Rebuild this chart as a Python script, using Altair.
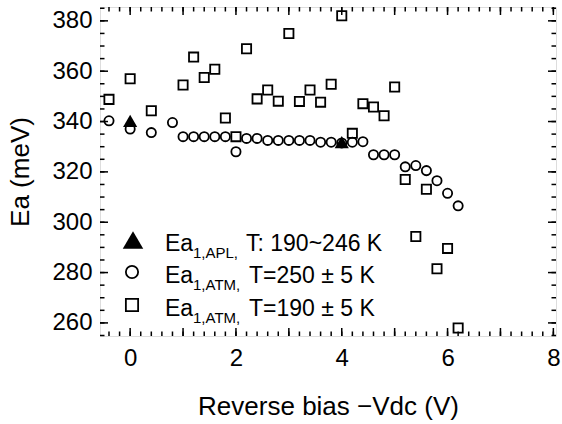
import altair as alt
import pandas as pd

# ---- data ----
sq_x = [-0.4, 0.0, 0.4, 1.0, 1.2, 1.4, 1.6, 1.8, 2.0, 2.2, 2.4, 2.6, 2.8, 3.0, 3.2,
        3.4, 3.6, 3.8, 4.0, 4.2, 4.4, 4.6, 4.8, 5.0, 5.2, 5.4, 5.6, 5.8, 6.0, 6.2]
sq_y = [348.8, 357.0, 344.3, 354.5, 365.6, 357.5, 360.8, 341.4, 334.0, 368.9, 349.0,
        352.5, 348.1, 375.0, 348.0, 352.5, 347.7, 354.8, 382.0, 335.3, 347.1, 345.8,
        342.3, 353.7, 317.0, 294.3, 313.1, 281.5, 289.6, 258.0]

ci_x = [-0.4, 0.0, 0.4, 0.8, 1.0, 1.2, 1.4, 1.6, 1.8, 2.0, 2.2, 2.4, 2.6, 2.8, 3.0, 3.2,
        3.4, 3.6, 3.8, 4.0, 4.2, 4.4, 4.6, 4.8, 5.0, 5.2, 5.4, 5.6, 5.8, 6.0, 6.2]
ci_y = [340.3, 337.0, 335.6, 339.6, 334.0, 334.0, 334.0, 334.0, 334.0, 328.0, 333.3,
        333.3, 332.5, 332.5, 332.5, 332.5, 332.5, 331.8, 331.8, 331.5, 331.8, 332.0,
        326.8, 326.8, 326.8, 322.0, 322.5, 320.5, 316.5, 311.5, 306.5]

tr_x = [0.0, 4.0]
tr_y = [340.3, 331.8]

x_labels = [0, 2, 4, 6, 8]
y_labels = [260, 280, 300, 320, 340, 360, 380]
x_dom = [-0.57, 8.05]
y_dom = [254.8, 385.5]

# ---- layout ----
W, H = 456, 329
FONT = "Liberation Sans"

xs = alt.Scale(domain=x_dom, nice=False, zero=False)
ys = alt.Scale(domain=y_dom, nice=False, zero=False)

squares = pd.DataFrame({"x": sq_x, "y": sq_y})
circles = pd.DataFrame({"x": ci_x, "y": ci_y})
triangles = pd.DataFrame({"x": tr_x, "y": tr_y})

xaxis = alt.Axis(values=x_labels, title="Reverse bias \u2212Vdc (V)", ticks=False, tickSize=0,
                 domain=False, grid=False, labelFontSize=24, labelFont=FONT, labelColor="black",
                 labelPadding=10, titleFontSize=26, titleFont=FONT, titleFontWeight="normal",
                 titleColor="black", titlePadding=23)
yaxis = alt.Axis(values=y_labels, title="Ea (meV)", ticks=False, tickSize=0,
                 domain=False, grid=False, labelFontSize=24, labelFont=FONT, labelColor="black",
                 labelPadding=8, titleFontSize=26, titleFont=FONT, titleFontWeight="normal",
                 titleColor="black", titlePadding=18)

sq_layer = alt.Chart(squares).mark_point(shape="square", filled=False, color="black",
                                          size=85, strokeWidth=1.8, opacity=1).encode(
    x=alt.X("x:Q", scale=xs, axis=xaxis), y=alt.Y("y:Q", scale=ys, axis=yaxis))
ci_layer = alt.Chart(circles).mark_point(shape="circle", filled=False, color="black",
                                          size=85, strokeWidth=1.8, opacity=1).encode(
    x=alt.X("x:Q", scale=xs), y=alt.Y("y:Q", scale=ys))
tr_layer = alt.Chart(triangles).mark_point(shape="triangle-up", filled=True, color="black",
                                            size=200, opacity=1).encode(
    x=alt.X("x:Q", scale=xs), y=alt.Y("y:Q", scale=ys))

# ---- inward ticks on all four sides ----
x_major = pd.DataFrame({"v": [i for i in range(0, 9)]})
x_minor = pd.DataFrame({"v": [round(-0.4 + 0.2 * i, 2) for i in range(43)]})
y_major = pd.DataFrame({"v": y_labels})
y_minor = pd.DataFrame({"v": [255 + 5 * i for i in range(27)]})

def xticks(df, ln):
    b = alt.Chart(df).mark_rule(color="black", strokeWidth=1.5).encode(
        x=alt.X("v:Q", scale=xs), y=alt.value(H), y2=alt.value(H - ln))
    t = alt.Chart(df).mark_rule(color="black", strokeWidth=1.5).encode(
        x=alt.X("v:Q", scale=xs), y=alt.value(0), y2=alt.value(ln))
    return [b, t]

def yticks(df, ln):
    l = alt.Chart(df).mark_rule(color="black", strokeWidth=1.5).encode(
        y=alt.Y("v:Q", scale=ys), x=alt.value(0), x2=alt.value(ln))
    r = alt.Chart(df).mark_rule(color="black", strokeWidth=1.5).encode(
        y=alt.Y("v:Q", scale=ys), x=alt.value(W), x2=alt.value(W - ln))
    return [l, r]

ticks = xticks(x_major, 8) + xticks(x_minor, 4.5) + yticks(y_major, 8) + yticks(y_minor, 4.5)

# ---- hand-made legend ----
one = alt.Data(values=[{"a": 1}])
leg_sym = [("triangle-up", True, 33, 233, 420), ("circle", False, 32, 265, 150), ("square", False, 32, 298, 150)]
leg_main = ["Ea", "Ea", "Ea"]
leg_sub = ["1,APL,", "1,ATM,", "1,ATM,"]
leg_rest = ["T: 190~246 K", "T=250 \u00b1 5 K", "T=190 \u00b1 5 K"]
row_base = [244, 276, 309]
rest_x = [146, 149, 149]

legend = []
for (shape, filled, px, py, sz), m, s, r, yb, rx in zip(leg_sym, leg_main, leg_sub, leg_rest, row_base, rest_x):
    legend.append(alt.Chart(one).mark_point(shape=shape, filled=filled, color="black", size=sz,
                                             strokeWidth=1.8, opacity=1).encode(
        x=alt.value(px), y=alt.value(py)))
    legend.append(alt.Chart(one).mark_text(text=m, font=FONT, fontSize=23, align="left",
                                            baseline="alphabetic", color="black").encode(
        x=alt.value(65), y=alt.value(yb)))
    legend.append(alt.Chart(one).mark_text(text=s, font=FONT, fontSize=15, align="left",
                                            baseline="alphabetic", color="black").encode(
        x=alt.value(93), y=alt.value(yb + 6.5)))
    legend.append(alt.Chart(one).mark_text(text=r, font=FONT, fontSize=23, align="left",
                                            baseline="alphabetic", color="black").encode(
        x=alt.value(rx), y=alt.value(yb)))

chart = alt.layer(sq_layer, ci_layer, tr_layer, *ticks, *legend).properties(
    width=W, height=H,
    autosize=alt.AutoSizeParams(type="none"),
    padding={"left": 100, "top": 7, "right": 6, "bottom": 88},
).configure_view(stroke="black", strokeWidth=2).configure(background="white")

chart.save("out.html", embed_options={"renderer": "svg", "actions": False})
